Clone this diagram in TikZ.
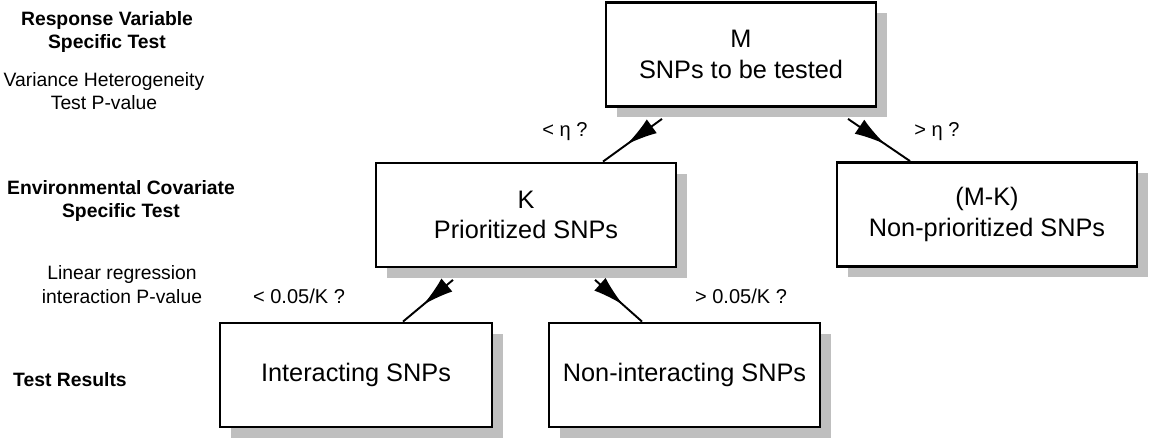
\documentclass[tikz,border=0pt]{standalone}
\usepackage{fontspec}
\setmainfont{Liberation Sans}
\usepackage{tikz}
\usetikzlibrary{arrows.meta, shadows, decorations.markings}

\begin{document}
\begin{tikzpicture}[
    >=Latex,
    snpbox/.style={rectangle, draw, line width=1.6pt, fill=white,
        minimum height=20.8mm, align=center, font=\fontsize{14.4}{17.5}\selectfont,
        drop shadow={shadow xshift=2.2mm, shadow yshift=-2.2mm, fill=black!25, opacity=1}},
    sidehead/.style={align=center, font=\fontsize{11}{13.2}\selectfont\bfseries},
    sidenote/.style={align=center, font=\fontsize{11}{13.2}\selectfont},
    cutlabel/.style={font=\fontsize{11.4}{13}\selectfont},
    splitline/.style={line width=1.1pt, postaction={decorate},
        decoration={markings, mark=at position 0.6 with {\arrow{Latex[length=6.2mm, width=3.4mm]}}}}
]

\useasboundingbox (0,0) rectangle (22.98,-8.76);

% boxes
\node[snpbox, minimum width=54mm] (all) at (14.82,-1.09) {M\\SNPs to be tested};
\node[snpbox, minimum width=60mm] (prio) at (10.52,-4.30) {K\\Prioritized SNPs};
\node[snpbox, minimum width=60mm] (nonprio) at (19.74,-4.29) {(M-K)\\Non-prioritized SNPs};
\node[snpbox, minimum width=54.4mm] (inter) at (7.12,-7.50) {Interacting SNPs};
\node[snpbox, minimum width=54.2mm] (noninter) at (13.69,-7.50) {Non-interacting SNPs};

% side captions
\node[sidehead] (resp) at (2.14,-0.64) {Response Variable\\Specific Test};
\node[sidenote] (varh) at (2.08,-1.83) {Variance Heterogeneity\\Test P-value};
\node[sidehead] (env) at (2.42,-4.02) {Environmental Covariate\\Specific Test};
\node[sidenote] (linreg) at (2.44,-5.69) {Linear regression\\interaction P-value};
\node[sidehead] (res) at (1.40,-7.60) {Test Results};

% thresholds
\node[cutlabel] (lteta) at (11.30,-2.64) {< η ?};
\node[cutlabel] (gteta) at (18.74,-2.64) {> η ?};
\node[cutlabel] (ltk) at (5.98,-5.92) {< 0.05/K ?};
\node[cutlabel] (gtk) at (14.82,-5.92) {> 0.05/K ?};

% connectors
\draw[splitline] ([xshift=-15.8mm, yshift=-2.2mm]all.south) -- ([xshift=15.4mm]prio.north);
\draw[splitline] ([xshift=21.4mm, yshift=-2.2mm]all.south) -- ([xshift=-15.4mm]nonprio.north);
\draw[splitline] ([xshift=-14.6mm, yshift=-2.3mm]prio.south) -- ([xshift=9.4mm]inter.north);
\draw[splitline] ([xshift=13.8mm, yshift=-2.3mm]prio.south) -- ([xshift=-8.5mm]noninter.north);

\end{tikzpicture}
\end{document}
